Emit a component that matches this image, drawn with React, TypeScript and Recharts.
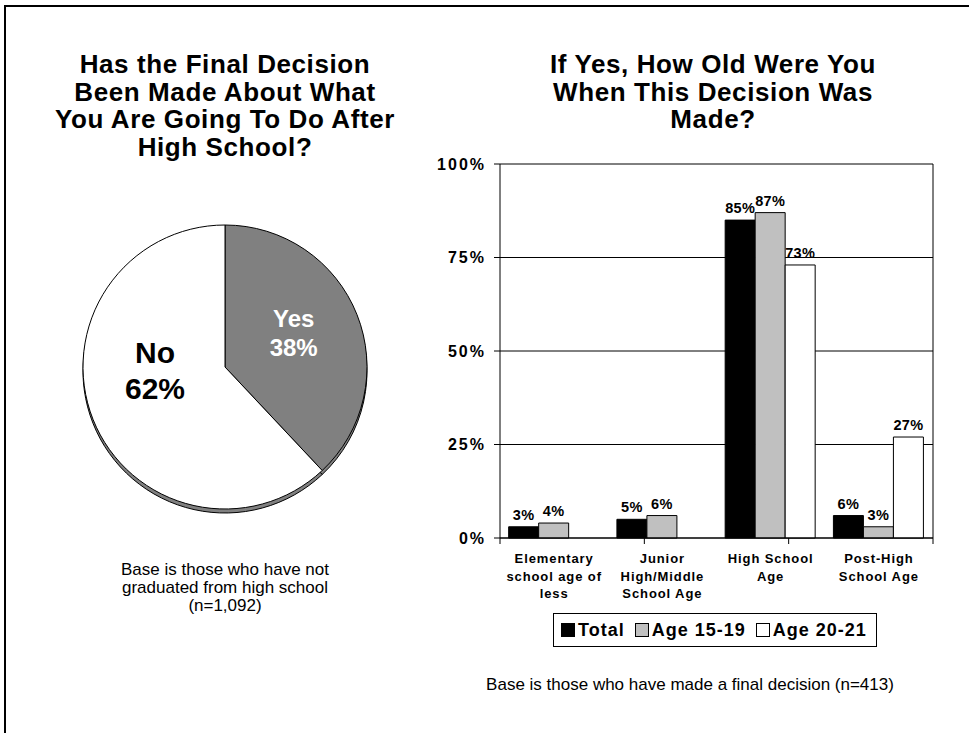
import React from "react";
import {
  Bar,
  BarChart,
  CartesianGrid,
  Cell,
  LabelList,
  Legend,
  Pie,
  PieChart,
  XAxis,
  YAxis,
} from "recharts";

// pie: has the final decision been made
const pieNames = ["Yes", "No"];
const pieValues = [38, 62];

// bars: age when the decision was made
const categories = [
  "Elementary school age of less",
  "Junior High/Middle School Age",
  "High School Age",
  "Post-High School Age",
];
const categoryLines = [
  ["Elementary", "school age of", "less"],
  ["Junior", "High/Middle", "School Age"],
  ["High School", "Age"],
  ["Post-High", "School Age"],
];
const seriesNames = ["Total", "Age 15-19", "Age 20-21"];
const totalValues = [3, 5, 85, 6];
const age1519Values = [4, 6, 87, 3];
const age2021Values = [null, null, 73, 27];
const yTicks = [0, 25, 50, 75, 100];
const edgeTicks = [0, 1, 2, 3, 4];

const FONT = "Arial, 'Liberation Sans', sans-serif";

const pieData = pieNames.map((name, i) => ({ name, value: pieValues[i] }));
const pieFills = ["#808080", "#ffffff"];
const pieLabelStyle: Record<string, { r: number; dy: number; size: number; color: string }> = {
  Yes: { r: 0.52, dy: -7, size: 24, color: "#fff" },
  No: { r: 0.53, dy: -24, size: 30, color: "#000" },
};

const barData = categories.map((category, i) => ({
  category,
  total: totalValues[i],
  age1519: age1519Values[i],
  age2021: age2021Values[i],
}));

const RAD = Math.PI / 180;

const PieLabel = (props: any) => {
  const { cx, cy, midAngle, outerRadius, name, value } = props;
  const s = pieLabelStyle[name];
  const x = cx + outerRadius * s.r * Math.cos(-midAngle * RAD);
  const y = cy + outerRadius * s.r * Math.sin(-midAngle * RAD) + s.dy;
  const lh = s.size * 1.2;
  return (
    <text
      x={x}
      y={y}
      textAnchor="middle"
      fill={s.color}
      fontSize={s.size}
      fontWeight="bold"
      fontFamily={FONT}
    >
      <tspan x={x} dy={-lh / 2 + s.size * 0.35}>
        {name}
      </tspan>
      <tspan x={x} dy={lh}>
        {value}%
      </tspan>
    </text>
  );
};

const CategoryTick = (props: any) => {
  const { x, y, index } = props;
  const lines = categoryLines[index] || [];
  return (
    <text
      x={x}
      y={y}
      textAnchor="middle"
      fill="#000"
      fontSize={13}
      fontWeight="bold"
      fontFamily={FONT}
      letterSpacing={0.9}
    >
      {lines.map((line, i) => (
        <tspan key={i} x={x} dy={i === 0 ? 16 : 17.5}>
          {line}
        </tspan>
      ))}
    </text>
  );
};

const BarValueLabel = (props: any) => {
  const { x, y, width, value } = props;
  if (value == null) return null;
  return (
    <text
      x={x + width / 2}
      y={y - 7}
      textAnchor="middle"
      fill="#000"
      fontSize={14.5}
      fontWeight="bold"
      fontFamily={FONT}
      letterSpacing={0.3}
    >
      {value}%
    </text>
  );
};

const LegendBox = (props: any) => {
  const { payload = [] } = props;
  const items = [...payload].sort(
    (a: any, b: any) => seriesNames.indexOf(a.value) - seriesNames.indexOf(b.value)
  );
  return (
    <div
      style={{
        display: "inline-flex",
        alignItems: "center",
        height: 34,
        boxSizing: "border-box",
        border: "1px solid #000",
        padding: "0 9px 0 7px",
        background: "#fff",
        fontFamily: FONT,
        fontWeight: "bold",
        fontSize: 18,
        letterSpacing: 1,
        color: "#000",
        whiteSpace: "nowrap",
      }}
    >
      {items.map((entry: any, i: number) => (
        <span
          key={i}
          style={{ display: "inline-flex", alignItems: "center", marginLeft: i === 0 ? 0 : 10 }}
        >
          <span
            style={{
              display: "inline-block",
              width: 14,
              height: 14,
              boxSizing: "border-box",
              border: "1px solid #000",
              background: entry.color,
              marginRight: 3,
            }}
          />
          {entry.value}
        </span>
      ))}
    </div>
  );
};

export default function App() {
  return (
    <div
      style={{
        position: "absolute",
        left: 0,
        top: 0,
        width: 969,
        height: 733,
        overflow: "hidden",
        background: "#fff",
        fontFamily: FONT,
        color: "#000",
      }}
    >
      <div
        style={{
          position: "absolute",
          left: 4,
          top: 5,
          width: 1200,
          height: 1000,
          borderTop: "2px solid #000",
          borderLeft: "2px solid #000",
        }}
      />

      <div
        style={{
          position: "absolute",
          left: 25,
          top: 51,
          width: 400,
          textAlign: "center",
          fontSize: 26,
          fontWeight: "bold",
          lineHeight: "27.5px",
          letterSpacing: 0.6,
        }}
      >
        Has the Final Decision
        <br />
        Been Made About What
        <br />
        You Are Going To Do After
        <br />
        High School?
      </div>

      <div
        style={{
          position: "absolute",
          left: 513,
          top: 51,
          width: 400,
          textAlign: "center",
          fontSize: 26,
          fontWeight: "bold",
          lineHeight: "27.5px",
          letterSpacing: 0.6,
        }}
      >
        If Yes, How Old Were You
        <br />
        When This Decision Was
        <br />
        Made?
      </div>

      <div style={{ position: "absolute", left: 60, top: 200 }}>
        <PieChart width={330} height={330}>
          <Pie
            data={pieData}
            dataKey="value"
            cx={160}
            cy={166}
            outerRadius={142}
            startAngle={90}
            endAngle={-270}
            fill="#808080"
            stroke="#000"
            strokeWidth={1}
            label={false}
            labelLine={false}
            isAnimationActive={false}
          />
          <Pie
            data={pieData}
            dataKey="value"
            cx={160}
            cy={162}
            outerRadius={142}
            startAngle={90}
            endAngle={-270}
            stroke="#000"
            strokeWidth={1}
            label={PieLabel}
            labelLine={false}
            isAnimationActive={false}
          >
            {pieData.map((d, i) => (
              <Cell key={d.name} fill={pieFills[i]} />
            ))}
          </Pie>
        </PieChart>
      </div>

      <div
        style={{
          position: "absolute",
          left: 25,
          top: 561,
          width: 400,
          textAlign: "center",
          fontSize: 17,
          lineHeight: "18px",
        }}
      >
        Base is those who have not
        <br />
        graduated from high school
        <br />
        (n=1,092)
      </div>

      <div style={{ position: "absolute", left: 430, top: 150 }}>
        <BarChart
          width={520}
          height={511}
          data={barData}
          margin={{ top: 14, right: 17, bottom: 26, left: 0 }}
          barCategoryGap="8%"
          barGap={0}
        >
          <CartesianGrid
            xAxisId="b-cat"
            yAxisId="left"
            stroke="#000"
            strokeDasharray=""
            verticalCoordinatesGenerator={({ offset }: any) => [offset.left + offset.width]}
          />
          <XAxis
            xAxisId="b-cat"
            dataKey="category"
            axisLine={false}
            tickLine={false}
            tick={<CategoryTick />}
            interval={0}
            height={62}
          />
          <XAxis
            xAxisId="a-edges"
            type="number"
            domain={[0, 4]}
            ticks={edgeTicks}
            interval={0}
            allowDataOverflow
            tickFormatter={() => ""}
            tickSize={6}
            tickLine={{ stroke: "#000" }}
            axisLine={{ stroke: "#000" }}
            height={1}
          />
          <YAxis
            yAxisId="left"
            domain={[0, 100]}
            ticks={yTicks}
            interval={0}
            tickFormatter={(v) => `${v}%`}
            width={70}
            tickSize={6}
            tickMargin={8}
            axisLine={{ stroke: "#000" }}
            tickLine={{ stroke: "#000" }}
            tick={{ fill: "#000", fontSize: 16, fontWeight: "bold", fontFamily: FONT, letterSpacing: 2 }}
          />
          <Legend
            content={<LegendBox />}
            wrapperStyle={{ left: 123, top: 463, width: "auto" }}
          />
          <Bar
            xAxisId="b-cat"
            yAxisId="left"
            dataKey="total"
            name="Total"
            fill="#000000"
            stroke="#000"
            isAnimationActive={false}
          >
            <LabelList dataKey="total" content={<BarValueLabel />} />
          </Bar>
          <Bar
            xAxisId="b-cat"
            yAxisId="left"
            dataKey="age1519"
            name="Age 15-19"
            fill="#c0c0c0"
            stroke="#000"
            isAnimationActive={false}
          >
            <LabelList dataKey="age1519" content={<BarValueLabel />} />
          </Bar>
          <Bar
            xAxisId="b-cat"
            yAxisId="left"
            dataKey="age2021"
            name="Age 20-21"
            fill="#ffffff"
            stroke="#000"
            isAnimationActive={false}
          >
            <LabelList dataKey="age2021" content={<BarValueLabel />} />
          </Bar>
        </BarChart>
      </div>

      <div
        style={{
          position: "absolute",
          left: 440,
          top: 675,
          width: 500,
          textAlign: "center",
          fontSize: 17,
          lineHeight: "20px",
        }}
      >
        Base is those who have made a final decision (n=413)
      </div>
    </div>
  );
}
